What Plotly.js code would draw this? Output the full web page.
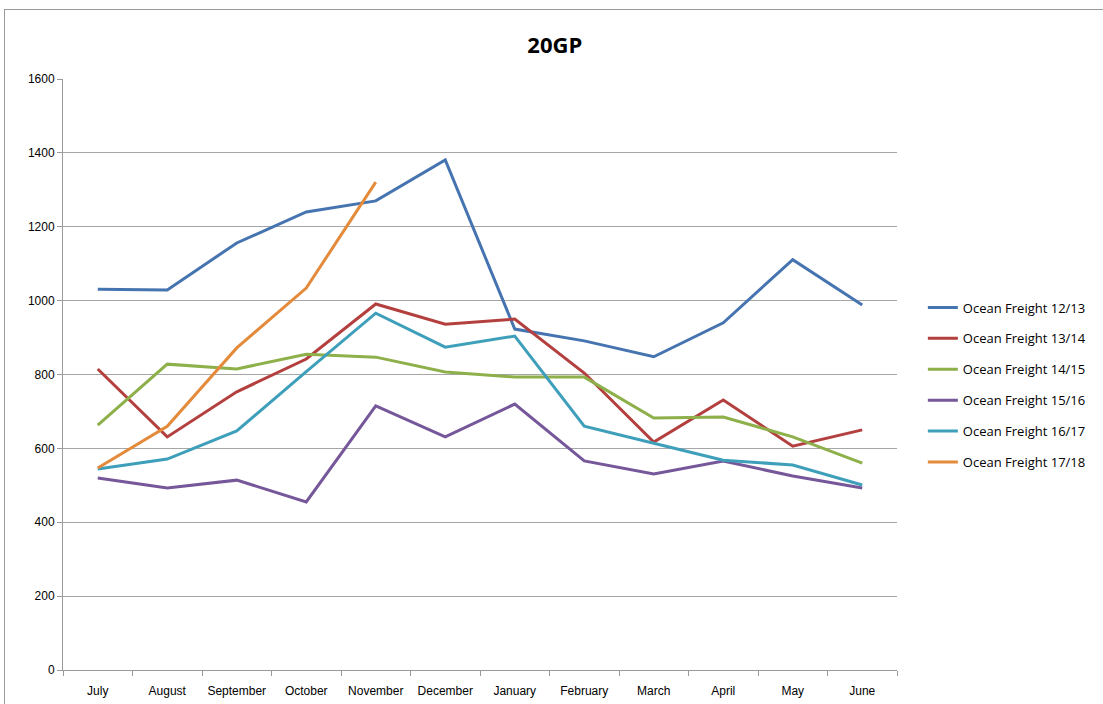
<!DOCTYPE html>
<html><head><meta charset="utf-8">
<script src="https://cdn.plot.ly/plotly-3.0.1.min.js"></script>
<style>
body{margin:0;background:#fff;}
#wrap{position:relative;width:1103px;height:704px;overflow:hidden;}
#chart{width:1103px;height:704px;}
#frame{position:absolute;left:4px;top:9px;width:1200px;height:800px;border:1px solid #9a9a9a;pointer-events:none;}
</style></head>
<body><div id="wrap"><div id="chart"></div><div id="frame"></div></div>
<script>
const months = ["July","August","September","October","November","December","January","February","March","April","May","June"];
const seriesNames = ["Ocean Freight 12/13","Ocean Freight 13/14","Ocean Freight 14/15","Ocean Freight 15/16","Ocean Freight 16/17","Ocean Freight 17/18"];
const of1213 = [1031,1029,1156,1240,1270,1381,923,891,848,940,1111,988];
const of1314 = [815,631,753,842,991,936,950,804,617,731,606,650];
const of1415 = [663,828,815,855,847,807,793,793,682,685,631,560];
const of1516 = [520,493,514,455,715,631,720,566,531,566,525,493];
const of1617 = [544,571,647,808,966,874,904,660,614,568,555,501];
const of1718 = [547,660,872,1034,1321,null,null,null,null,null,null,null];
const colors = ["#4674B0","#B3403E","#8DB04A","#75579A","#3E9FBA","#E48A3B"];
const allSeries = [of1213,of1314,of1415,of1516,of1617,of1718];

const traces = allSeries.map((vals,i)=>({
  type:"scatter", mode:"lines", x:months, y:vals, name:seriesNames[i],
  legendgroup:"g"+i,
  line:{color:colors[i], width:3}, connectgaps:false, hoverinfo:"skip"
}));

const layout = {
  width:1103, height:704,
  margin:{l:63, r:203, t:79, b:34},
  paper_bgcolor:"#fff", plot_bgcolor:"#fff",
  font:{family:"'Liberation Sans',Arial,sans-serif", size:12, color:"#000"},
  title:{text:"<b>20GP</b>", x:0.503, xref:"container", xanchor:"center", y:1-45/704, yref:"container", yanchor:"middle",
    font:{family:"'Open Sans','Liberation Sans',sans-serif", size:22, color:"#000"}},
  xaxis:{type:"category", tickson:"boundaries", ticks:"outside", ticklen:5, tickcolor:"#9a9a9a",
    showline:true, linecolor:"#9a9a9a", linewidth:1, showgrid:false, zeroline:false,
    tickangle:0, ticklabelstandoff:10, tickfont:{size:12}, range:[-0.5,11.5], fixedrange:true},
  yaxis:{range:[0,1600], dtick:200, tick0:0, ticks:"outside", ticklen:5, tickcolor:"#9a9a9a",
    showline:true, linecolor:"#9a9a9a", linewidth:1, showgrid:true, gridcolor:"#a6a6a6", gridwidth:1,
    zeroline:false, tickfont:{size:12}, fixedrange:true},
  showlegend:true,
  legend:{x:1.031, xanchor:"left", y:(670-385)/591, yanchor:"middle", traceorder:"grouped", tracegroupgap:11,
    font:{family:"'Open Sans','Liberation Sans',sans-serif", size:13, color:"#000"}, bgcolor:"rgba(0,0,0,0)"}
};
Plotly.newPlot("chart", traces, layout, {staticPlot:true, displayModeBar:false});
</script></body></html>
